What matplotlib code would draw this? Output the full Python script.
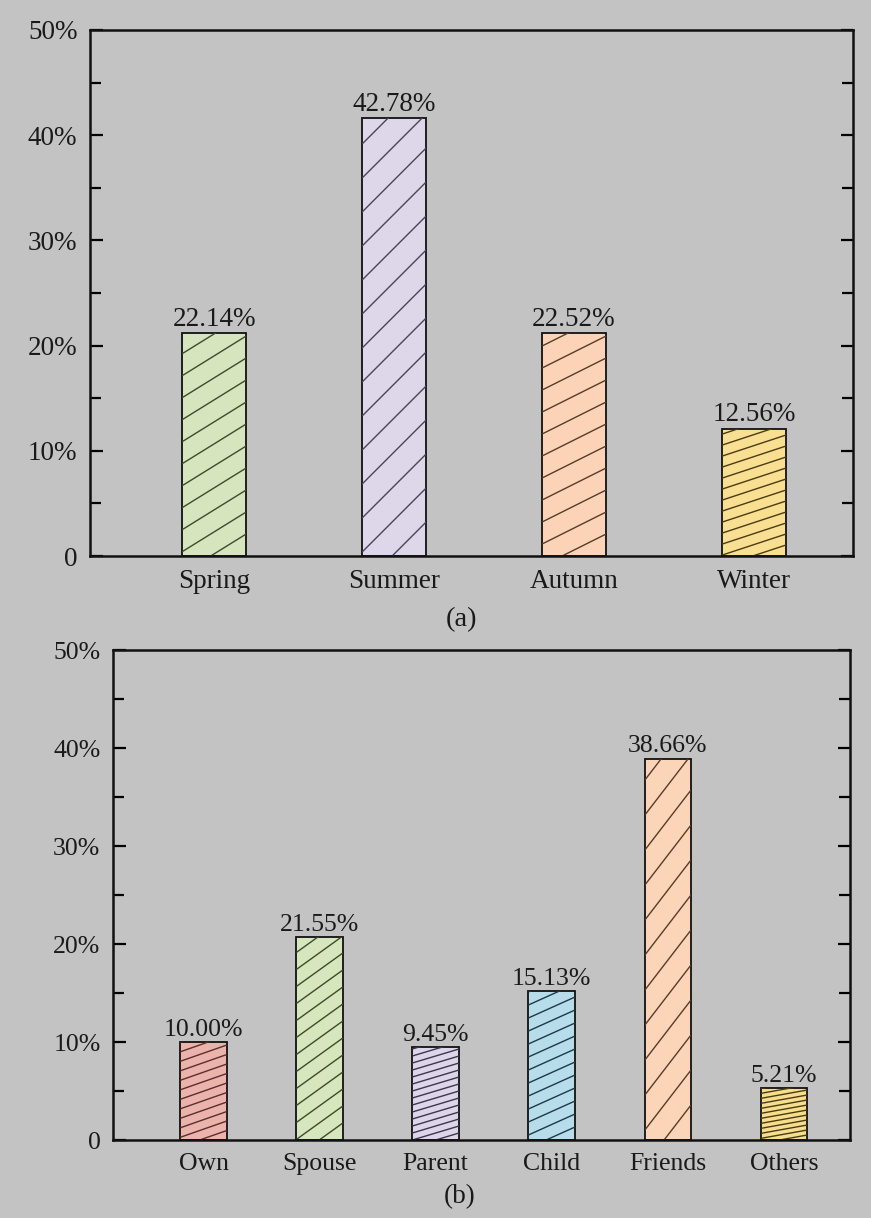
import numpy as np
import matplotlib
matplotlib.use("Agg")
import matplotlib.pyplot as plt
from matplotlib.collections import LineCollection
from matplotlib.ticker import MultipleLocator, FixedLocator

plt.rcParams['font.family'] = ['Liberation Serif', 'DejaVu Serif']

# (a) seasons
seasons = ["Spring", "Summer", "Autumn", "Winter"]
season_heights = [21.2, 41.6, 21.2, 12.1]
season_labels = ["22.14%", "42.78%", "22.52%", "12.56%"]
season_colors = ["#d6e5bd", "#ddd7e9", "#fcd3b6", "#f9df92"]
season_hatch = ["#3e4a2a", "#4a4458", "#5a3a28", "#4a3c10"]
# hatch slope (rise/run in pixels) and vertical spacing in pixels
season_slope = [0.62, 1.0, 0.5, 0.33]
season_space = [22, 34, 22, 11]

# (b) companions
relations = ["Own", "Spouse", "Parent", "Child", "Friends", "Others"]
relation_heights = [10.0, 20.7, 9.5, 15.2, 38.9, 5.3]
relation_labels = ["10.00%", "21.55%", "9.45%", "15.13%", "38.66%", "5.21%"]
relation_colors = ["#ebb3ab", "#d6e7bd", "#ddd6eb", "#b7dcea", "#fcd5b8", "#f6de8e"]
relation_hatch = ["#5a2f2c", "#3e4a2a", "#3c3848", "#1e3a48", "#5a3a28", "#4a3c10"]
relation_slope = [0.35, 0.72, 0.3, 0.45, 1.3, 0.18]
relation_space = [9.5, 17, 7, 13, 35, 5]

yticks = [0, 10, 20, 30, 40, 50]
ytick_labels = ["0", "10%", "20%", "30%", "40%", "50%"]

BG = "#c3c3c3"

fig = plt.figure(figsize=(8.71, 12.18), dpi=100, facecolor=BG)


def hatch_bar(ax, bar, slope, space, color):
    # draw custom angled hatch lines clipped to a bar, computed in pixel space
    x0, y0 = bar.get_x(), bar.get_y()
    x1, y1 = x0 + bar.get_width(), y0 + bar.get_height()
    (px0, py0), (px1, py1) = ax.transData.transform([(x0, y0), (x1, y1)])
    w = px1 - px0
    segs = []
    start = py0 - slope * w - space
    k = 0
    while start + k * space < py1 + space:
        ya = start + k * space
        segs.append([(px0, ya), (px1, ya + slope * w)])
        k += 1
    inv = ax.transData.inverted()
    segs = [inv.transform(s) for s in segs]
    lc = LineCollection(segs, colors=color, linewidths=1.0)
    ax.add_collection(lc)
    lc.set_clip_path(bar)


def panel(rect, cats, heights, labels, colors, hcols, slopes, spaces,
          xlim, width, fs, caption, cap_x, cap_y):
    ax = fig.add_axes(rect, facecolor=BG)
    x = np.arange(len(cats))
    ax.set_xlim(*xlim)
    ax.set_ylim(0, 50)
    bars = ax.bar(x, heights, width=width, color=colors, edgecolor="#111111",
                  linewidth=1.3, zorder=2)
    for b, s, sp, c in zip(bars, slopes, spaces, hcols):
        hatch_bar(ax, b, s, sp, c)
    for xi, h, lab in zip(x, heights, labels):
        ax.annotate(lab, (xi, h), xytext=(0, 1), textcoords="offset points",
                    ha="center", va="bottom", fontsize=fs, color="#1a1a1a")
    ax.set_xticks(x)
    ax.set_xticklabels(cats, fontsize=fs, color="#1a1a1a")
    ax.tick_params(axis="x", length=0, pad=9)
    ax.yaxis.set_major_locator(FixedLocator(yticks))
    ax.set_yticklabels(ytick_labels, fontsize=fs, color="#1a1a1a")
    ax.yaxis.set_minor_locator(MultipleLocator(5))
    ax.tick_params(axis="y", which="major", direction="in", length=9, width=1.6,
                   right=True, pad=9)
    ax.tick_params(axis="y", which="minor", direction="in", length=8, width=1.6,
                   right=True)
    for sp in ax.spines.values():
        sp.set_linewidth(1.8)
        sp.set_color("#111111")
    fig.text(cap_x, cap_y, caption, ha="center", va="center",
             fontsize=fs + 1, color="#1a1a1a")
    return ax


panel([0.1033, 0.5435, 0.876, 0.4319], seasons, season_heights, season_labels,
      season_colors, season_hatch, season_slope, season_space,
      (-0.69, 3.55), 0.356, 19.5, "(a)", 461 / 871, 1 - 620 / 1218)

panel([0.1297, 0.0640, 0.8462, 0.4023], relations, relation_heights, relation_labels,
      relation_colors, relation_hatch, relation_slope, relation_space,
      (-0.78, 5.57), 0.40, 18.5, "(b)", 460 / 871, 1 - 1197 / 1218)

fig.savefig("out.png", dpi=100, facecolor=BG)
